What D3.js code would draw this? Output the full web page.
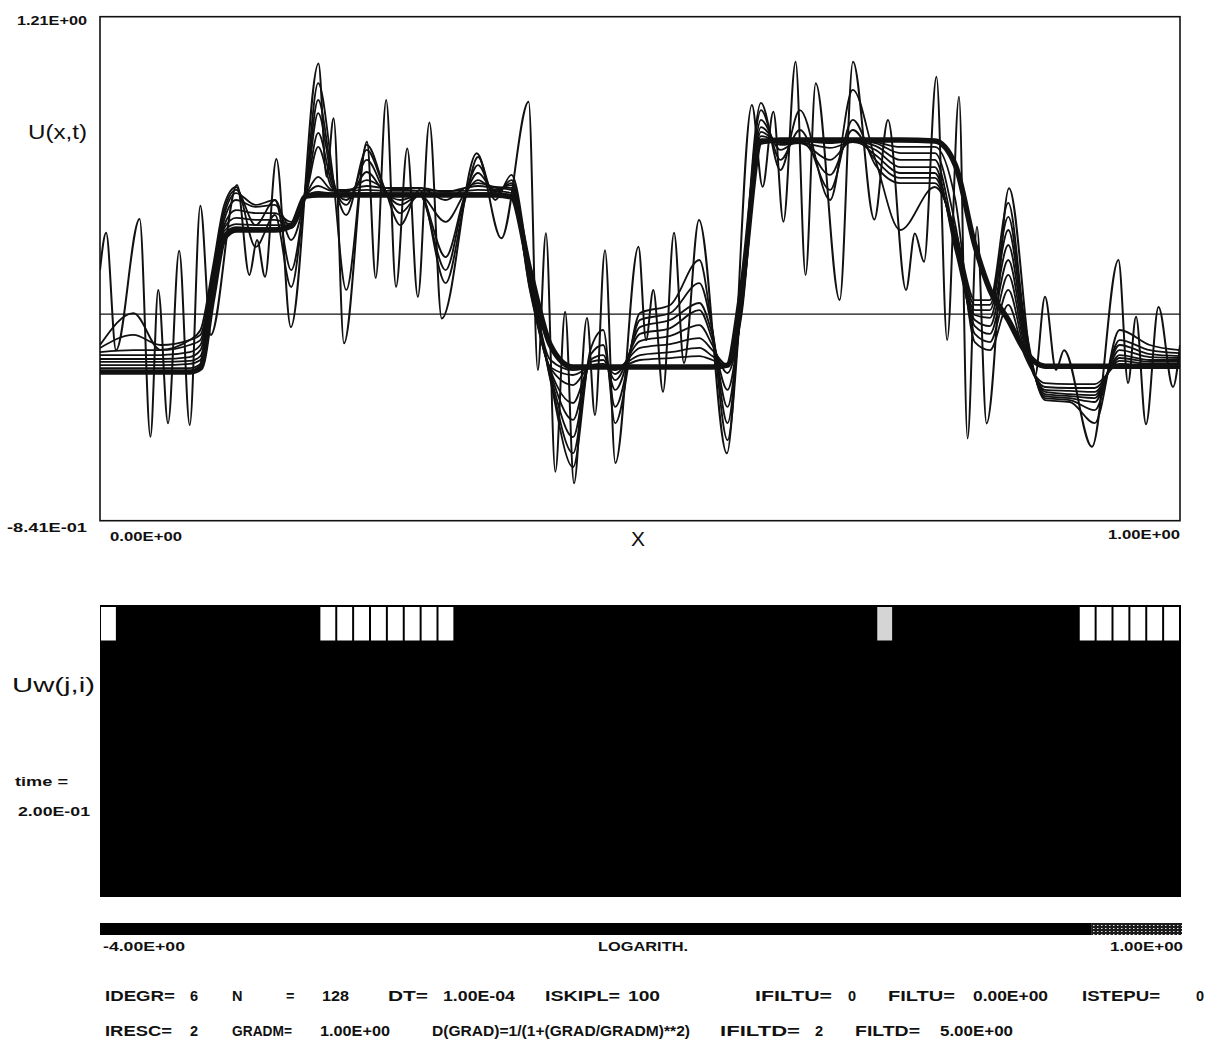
<!DOCTYPE html>
<html>
<head>
<meta charset="utf-8">
<script src="https://cdn.jsdelivr.net/npm/d3@7"></script>
<style>
  body { margin: 0; background: #fff; }
  text { font-family: "Liberation Sans", "DejaVu Sans", sans-serif; fill: #111; }
</style>
</head>
<body>
<div id="chart"></div>
<script>
const width = 1220;
const height = 1046;

// ---- values ------------------------------------------------------------

// axis ends
const xDomain = [0, 1];
const uDomain = [-0.841, 1.21];

// initial (noisy) signal, [x, U] at each of its extrema
const uInitial = [
  [0, 0.179], [0.0057, 0.331], [0.0148, -0.147], [0.0367, 0.387], [0.0467, -0.499],
  [0.0539, 0.098], [0.063, -0.444], [0.0733, 0.258], [0.0831, -0.452], [0.0929, 0.441],
  [0.1026, -0.085], [0.1269, 0.525], [0.1383, 0.159], [0.1454, 0.301], [0.1528, 0.152],
  [0.1633, 0.631], [0.1767, -0.053], [0.2023, 1.020], [0.2098, 0.559], [0.2163, 0.797],
  [0.2259, -0.119], [0.2472, 0.701], [0.2553, 0.147], [0.265, 0.871], [0.2741, 0.111],
  [0.2845, 0.674], [0.2943, 0.070], [0.305, 0.779], [0.3164, -0.018], [0.3489, 0.654],
  [0.3716, 0.308], [0.3969, 0.864], [0.4054, -0.228], [0.4129, 0.329], [0.4216, -0.642],
  [0.4307, 0.009], [0.4389, -0.689], [0.4509, -0.016], [0.4583, -0.411], [0.4676, 0.260],
  [0.4772, -0.606], [0.4986, 0.274], [0.5056, -0.106], [0.5123, 0.098], [0.5213, -0.316],
  [0.5315, 0.331], [0.5407, -0.199], [0.5546, 0.383], [0.5804, -0.567], [0.6036, 0.851],
  [0.6135, 0.518], [0.6235, 0.823], [0.6328, 0.376], [0.6441, 1.027], [0.6533, 0.159],
  [0.6627, 0.939], [0.6849, 0.057], [0.6972, 1.027], [0.717, 0.385], [0.7296, 0.790],
  [0.7463, 0.098], [0.7545, 0.328], [0.763, 0.213], [0.7745, 0.966], [0.7844, -0.106],
  [0.7954, 0.884], [0.8033, -0.506], [0.812, 0.355], [0.8209, -0.445], [0.8417, 0.512],
  [0.8657, -0.255], [0.875, 0.070], [0.8852, -0.228], [0.8926, -0.147], [0.9185, -0.540],
  [0.943, 0.220], [0.9519, -0.281], [0.9593, -0.011], [0.9685, -0.448], [0.9801, 0.029],
  [0.9935, -0.297], [1.0, -0.126]
];

// knot positions shared by the later (smoothed) curves
const xKnots = [0, 0.031, 0.056, 0.083, 0.093, 0.104, 0.115, 0.126, 0.144, 0.162,
  0.177, 0.191, 0.202, 0.215, 0.228, 0.247, 0.264, 0.278, 0.296, 0.320,
  0.338, 0.350, 0.366, 0.381, 0.398, 0.417, 0.438, 0.454, 0.466, 0.477,
  0.500, 0.528, 0.555, 0.567, 0.581, 0.594, 0.612, 0.630, 0.648, 0.676,
  0.697, 0.718, 0.741, 0.773, 0.792, 0.810, 0.824, 0.841, 0.856, 0.875,
  0.898, 0.921, 0.944, 0.972, 1.0];

const uStep1 = [-0.126, 0.004, -0.146, -0.106, -0.065, 0.179, 0.444, 0.517, 0.273, 0.403,
  0.110, 0.545, 0.940, 0.586, 0.098, 0.688, 0.505, 0.362, 0.505, 0.126,
  0.464, 0.639, 0.464, 0.566, 0.179, -0.269, -0.623, -0.147, -0.065, -0.444,
  0.004, 0.037, 0.220, -0.065, -0.513, 0.057, 0.859, 0.586, 0.830, 0.464,
  0.912, 0.627, 0.342, 0.517, 0.342, 0.057, 0.057, 0.452, -0.024, -0.350,
  -0.358, -0.444, -0.065, -0.126, -0.147];
const uStep2 = [-0.138, -0.085, -0.126, -0.106, -0.085, 0.159, 0.423, 0.505, 0.362, 0.464,
  0.179, 0.525, 0.871, 0.566, 0.403, 0.668, 0.505, 0.411, 0.484, 0.179,
  0.484, 0.606, 0.484, 0.545, 0.159, -0.260, -0.566, -0.167, -0.126, -0.378,
  -0.024, 0.004, 0.126, -0.065, -0.444, 0.057, 0.830, 0.627, 0.749, 0.505,
  0.790, 0.606, 0.533, 0.533, 0.322, 0.037, 0.037, 0.395, -0.045, -0.342,
  -0.350, -0.391, -0.106, -0.147, -0.159];
const uStep3 = [-0.155, -0.147, -0.147, -0.126, -0.106, 0.138, 0.403, 0.492, 0.444, 0.464,
  0.301, 0.505, 0.818, 0.545, 0.444, 0.627, 0.497, 0.444, 0.484, 0.232,
  0.484, 0.574, 0.497, 0.533, 0.138, -0.248, -0.501, -0.187, -0.167, -0.309,
  -0.053, -0.024, 0.045, -0.085, -0.378, 0.037, 0.790, 0.668, 0.708, 0.566,
  0.749, 0.627, 0.554, 0.554, 0.301, 0.016, 0.016, 0.342, -0.065, -0.334,
  -0.342, -0.358, -0.126, -0.163, -0.171];
const uStep4 = [-0.167, -0.167, -0.167, -0.155, -0.126, 0.118, 0.383, 0.464, 0.436, 0.444,
  0.350, 0.497, 0.737, 0.525, 0.464, 0.578, 0.492, 0.464, 0.484, 0.375,
  0.492, 0.545, 0.505, 0.525, 0.118, -0.236, -0.431, -0.195, -0.187, -0.269,
  -0.081, -0.057, 0.016, -0.106, -0.309, 0.016, 0.761, 0.688, 0.696, 0.627,
  0.708, 0.647, 0.574, 0.574, 0.281, -0.004, -0.016, 0.281, -0.085, -0.326,
  -0.334, -0.342, -0.147, -0.175, -0.179];
const uStep5 = [-0.183, -0.183, -0.183, -0.175, -0.147, 0.098, 0.362, 0.423, 0.411, 0.411,
  0.375, 0.492, 0.680, 0.513, 0.497, 0.545, 0.513, 0.505, 0.513, 0.464,
  0.513, 0.533, 0.517, 0.513, 0.098, -0.228, -0.362, -0.208, -0.203, -0.244,
  -0.110, -0.089, -0.045, -0.126, -0.240, -0.004, 0.741, 0.696, 0.696, 0.676,
  0.700, 0.668, 0.598, 0.598, 0.260, -0.024, -0.049, 0.220, -0.106, -0.317,
  -0.326, -0.330, -0.167, -0.187, -0.187];
const uStep6 = [-0.195, -0.195, -0.195, -0.191, -0.171, 0.086, 0.350, 0.391, 0.383, 0.383,
  0.366, 0.488, 0.558, 0.505, 0.505, 0.521, 0.513, 0.513, 0.513, 0.497,
  0.513, 0.521, 0.513, 0.505, 0.106, -0.220, -0.289, -0.216, -0.216, -0.228,
  -0.138, -0.122, -0.098, -0.147, -0.208, 0.016, 0.724, 0.704, 0.704, 0.696,
  0.704, 0.684, 0.627, 0.627, 0.301, -0.049, -0.081, 0.159, -0.126, -0.309,
  -0.313, -0.317, -0.179, -0.195, -0.195];
const uStep7 = [-0.208, -0.208, -0.208, -0.203, -0.187, 0.073, 0.338, 0.366, 0.362, 0.362,
  0.362, 0.484, 0.521, 0.501, 0.501, 0.505, 0.501, 0.501, 0.501, 0.501,
  0.501, 0.505, 0.501, 0.492, 0.138, -0.216, -0.248, -0.220, -0.220, -0.220,
  -0.167, -0.155, -0.138, -0.171, -0.212, 0.057, 0.712, 0.708, 0.708, 0.704,
  0.708, 0.696, 0.655, 0.655, 0.362, -0.081, -0.114, 0.098, -0.147, -0.297,
  -0.301, -0.301, -0.191, -0.203, -0.203];
const uStep8 = [-0.220, -0.220, -0.220, -0.220, -0.203, 0.065, 0.326, 0.354, 0.350, 0.350,
  0.354, 0.480, 0.497, 0.492, 0.492, 0.492, 0.492, 0.492, 0.492, 0.492,
  0.492, 0.492, 0.492, 0.484, 0.159, -0.187, -0.228, -0.220, -0.220, -0.220,
  -0.187, -0.179, -0.171, -0.187, -0.212, 0.077, 0.704, 0.708, 0.708, 0.708,
  0.708, 0.700, 0.680, 0.680, 0.464, -0.114, -0.147, 0.037, -0.167, -0.281,
  -0.285, -0.285, -0.203, -0.212, -0.212];
const uFinal = [-0.236, -0.236, -0.236, -0.236, -0.220, 0.057, 0.309, 0.342, 0.342, 0.342,
  0.358, 0.480, 0.484, 0.484, 0.484, 0.484, 0.484, 0.484, 0.484, 0.484,
  0.484, 0.484, 0.484, 0.476, 0.179, -0.126, -0.216, -0.216, -0.216, -0.216,
  -0.216, -0.216, -0.216, -0.216, -0.208, 0.098, 0.700, 0.708, 0.708, 0.708,
  0.708, 0.708, 0.708, 0.704, 0.606, 0.281, 0.098, -0.024, -0.147, -0.212,
  -0.212, -0.212, -0.212, -0.212, -0.212];

// wavelet coefficients, finest level, log10 scale (64 columns)
const uwFine = [1.0, -4, -4, -4, -4, -4, -4, -4, -4, -4, -4, -4, -4,
  1.0, 1.0, 1.0, 1.0, 1.0, 1.0, 1.0, 1.0,
  -4, -4, -4, -4, -4, -4, -4, -4, -4, -4, -4, -4, -4, -4, -4, -4, -4, -4, -4, -4, -4, -4, -4, -4, -4,
  0.93,
  -4, -4, -4, -4, -4, -4, -4, -4, -4, -4, -4,
  1.0, 1.0, 1.0, 1.0, 1.0, 1.0];
const nLevels = 8;
const colorDomain = [-4, 1];
const timeValue = 0.2;

// run parameters printed under the plot
const paramsRow1 = [["IDEGR=", "6"], ["N", "=", "128"], ["DT=", "1.00E-04"], ["ISKIPL=", "100"],
  ["IFILTU=", "0"], ["FILTU=", "0.00E+00"], ["ISTEPU=", "0"]];
const paramsRow2 = [["IRESC=", "2"], ["GRADM=", "1.00E+00"], ["D(GRAD)=1/(1+(GRAD/GRADM)**2)"],
  ["IFILTD=", "2"], ["FILTD=", "5.00E+00"]];

// ---- drawing -------------------------------------------------------------

function fmtE(v) {
  return v.toExponential(2).toUpperCase().replace(/E([+-])(\d)$/, "E$10$2");
}

const svg = d3.select("#chart")
    .append("svg")
    .attr("width", width)
    .attr("height", height);

svg.append("rect").attr("width", width).attr("height", height).attr("fill", "#fff");

const x = d3.scaleLinear().domain(xDomain).range([100, 1180]);
const y = d3.scaleLinear().domain(uDomain).range([520.7, 16.7]);

svg.append("clipPath").attr("id", "plotClip")
  .append("rect")
    .attr("x", x(0)).attr("y", y(uDomain[1]))
    .attr("width", x(1) - x(0)).attr("height", y(uDomain[0]) - y(uDomain[1]));

// zero line
svg.append("line")
    .attr("x1", x(0)).attr("x2", x(1))
    .attr("y1", y(0)).attr("y2", y(0))
    .attr("stroke", "#111").attr("stroke-width", 1.2);

const line = d3.line()
    .curve(d3.curveMonotoneX)
    .x(d => x(d[0]))
    .y(d => y(d[1]));

const curves = svg.append("g").attr("clip-path", "url(#plotClip)");

curves.append("path")
    .datum(uInitial)
    .attr("d", line)
    .attr("fill", "none")
    .attr("stroke", "#111")
    .attr("stroke-width", 2);

const smoothed = [uStep1, uStep2, uStep3, uStep4, uStep5, uStep6, uStep7, uStep8];
curves.selectAll("path.step")
    .data(smoothed)
    .join("path")
    .attr("class", "step")
    .attr("d", s => line(xKnots.map((xv, i) => [xv, s[i]])))
    .attr("fill", "none")
    .attr("stroke", "#111")
    .attr("stroke-width", 1.8);

curves.append("path")
    .datum(xKnots.map((xv, i) => [xv, uFinal[i]]))
    .attr("d", line)
    .attr("fill", "none")
    .attr("stroke", "#111")
    .attr("stroke-width", 5.5);

// frame
svg.append("rect")
    .attr("x", x(0)).attr("y", y(uDomain[1]))
    .attr("width", x(1) - x(0)).attr("height", y(uDomain[0]) - y(uDomain[1]))
    .attr("fill", "none").attr("stroke", "#111").attr("stroke-width", 1.6);

// small bold labels, stretched to the width they take on the plot
function small(t, px, py, size, anchor, w) {
  const el = svg.append("text")
      .attr("x", px).attr("y", py)
      .attr("font-size", size)
      .attr("font-weight", "bold")
      .attr("text-anchor", anchor || "start")
      .text(t);
  if (w) el.attr("textLength", w).attr("lengthAdjust", "spacingAndGlyphs");
  return el;
}

small(fmtE(uDomain[1]), 17, 25, 13.5, "start", 70);
small(fmtE(uDomain[0]), 7, 532, 13.5, "start", 80);
small(fmtE(xDomain[0]), x(0) + 10, 541, 13.5, "start", 72);
small(fmtE(xDomain[1]), x(1) - 72, 539, 13.5, "start", 72);

svg.append("text").attr("x", 28).attr("y", 139).attr("font-size", 21)
    .attr("textLength", 59).attr("lengthAdjust", "spacingAndGlyphs").text("U(x,t)");
svg.append("text").attr("x", 638).attr("y", 546).attr("font-size", 21)
    .attr("text-anchor", "middle").text("X");

// ---- wavelet coefficient panel -------------------------------------------

const col = d3.scaleBand().domain(d3.range(uwFine.length)).range([x(0), x(1)]);
const row = d3.scaleBand().domain(d3.range(nLevels)).range([605, 897]);
const shade = d3.scaleLinear()
    .domain([colorDomain[0], 0.58, colorDomain[1]])
    .range(["#000", "#000", "#fff"])
    .clamp(true);

svg.append("rect")
    .attr("x", x(0)).attr("y", row.range()[0])
    .attr("width", x(1) - x(0) + 1).attr("height", row.range()[1] - row.range()[0])
    .attr("fill", "#000");

svg.append("g").selectAll("rect")
    .data(uwFine)
    .join("rect")
    .attr("x", (d, i) => col(i) + 1)
    .attr("y", row(0) + 2)
    .attr("width", col.bandwidth() - 2)
    .attr("height", row.bandwidth() - 3)
    .attr("fill", d => shade(d));

svg.append("text").attr("x", 12).attr("y", 692).attr("font-size", 21)
    .attr("textLength", 83).attr("lengthAdjust", "spacingAndGlyphs").text("Uw(j,i)");
small("time =", 15, 786, 13, "start", 53);
small(fmtE(timeValue), 18, 816, 13.5, "start", 72);

// colour bar: black up to the dithered top end
const cb = d3.scaleLinear().domain(colorDomain).range([x(0), 1182]);
const ditherFrom = 0.58;
const defs = svg.append("defs");
const pat = defs.append("pattern").attr("id", "dither")
    .attr("width", 4).attr("height", 3).attr("patternUnits", "userSpaceOnUse");
pat.append("rect").attr("width", 4).attr("height", 3).attr("fill", "#1a1a1a");
pat.append("rect").attr("x", 1).attr("y", 1).attr("width", 1.5).attr("height", 1).attr("fill", "#ddd");

svg.append("rect")
    .attr("x", cb(colorDomain[0])).attr("y", 923)
    .attr("width", cb(ditherFrom) - cb(colorDomain[0])).attr("height", 12)
    .attr("fill", shade(colorDomain[0]));
svg.append("rect")
    .attr("x", cb(ditherFrom)).attr("y", 923)
    .attr("width", cb(colorDomain[1]) - cb(ditherFrom)).attr("height", 12)
    .attr("fill", "url(#dither)");

small(fmtE(colorDomain[0]), 103, 951, 13.5, "start", 82);
small("LOGARITH.", 598, 951, 13.5, "start", 90);
small(fmtE(colorDomain[1]), 1110, 951, 13.5, "start", 73);

// parameters
const row1X = [[105, 190], [232, 286, 322], [388, 443], [545, 628], [755, 848], [888, 973], [1082, 1196]];
const row1W = [[70, 0], [0, 0, 27], [40, 72], [75, 32], [77, 0], [67, 75], [78, 0]];
const row2X = [[105, 190], [232, 320], [432], [720, 815], [855, 940]];
const row2W = [[67, 0], [60, 70], [258], [80, 0], [65, 73]];
paramsRow1.forEach((p, i) => p.forEach((t, j) => small(t, row1X[i][j], 1001, 14.5, "start", row1W[i][j])));
paramsRow2.forEach((p, i) => p.forEach((t, j) => small(t, row2X[i][j], 1036, 14.5, "start", row2W[i][j])));
</script>
</body>
</html>
